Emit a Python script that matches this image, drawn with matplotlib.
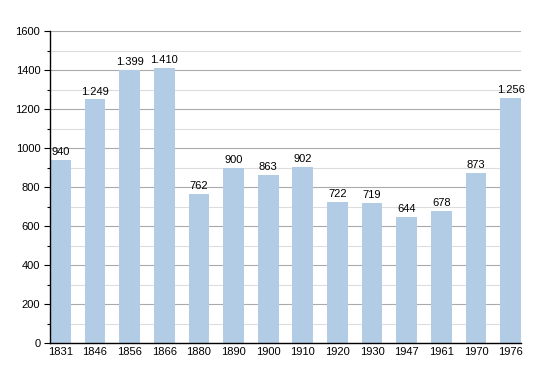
import matplotlib
matplotlib.use("Agg")
import matplotlib.pyplot as plt
from matplotlib.ticker import MultipleLocator

years = ["1831", "1846", "1856", "1866", "1880", "1890", "1900", "1910", "1920", "1930", "1947", "1961", "1970", "1976"]
population = [940, 1249, 1399, 1410, 762, 900, 863, 902, 722, 719, 644, 678, 873, 1256]
labels = ["940", "1.249", "1.399", "1.410", "762", "900", "863", "902", "722", "719", "644", "678", "873", "1.256"]

plt.rcParams['font.family'] = ['Liberation Sans', 'DejaVu Sans']

fig = plt.figure(figsize=(5.5, 3.73), dpi=100)
ax = fig.add_axes([50/550, 30/373, 471/550, 312/373])

x = list(range(len(years)))
bars = ax.bar(x, population, width=0.6, color="#b3cce6", zorder=2)
for xi, v, lab in zip(x, population, labels):
    ax.text(xi, v + 15, lab, ha="center", va="bottom", fontsize=8, color="black", zorder=3)

ax.set_xlim(-0.3, len(years) - 0.7)
ax.set_ylim(0, 1600)
ax.yaxis.set_major_locator(MultipleLocator(200))
ax.yaxis.set_minor_locator(MultipleLocator(100))
ax.grid(which="major", axis="y", color="#aaaaaa", linewidth=0.8, zorder=0)
ax.grid(which="minor", axis="y", color="#dddddd", linewidth=0.8, zorder=0)
ax.set_axisbelow(True)

ax.set_xticks(x)
ax.set_xticklabels(years)
ax.tick_params(axis="x", length=0, pad=3, labelsize=8)
ax.tick_params(axis="y", which="major", length=4, width=0.8, labelsize=8, pad=3)
ax.tick_params(axis="y", which="minor", length=2, width=0.8)

for s in ["top", "right"]:
    ax.spines[s].set_visible(False)
for s in ["left", "bottom"]:
    ax.spines[s].set_linewidth(1.0)
    ax.spines[s].set_color("black")

fig.savefig("out.png", dpi=100)
